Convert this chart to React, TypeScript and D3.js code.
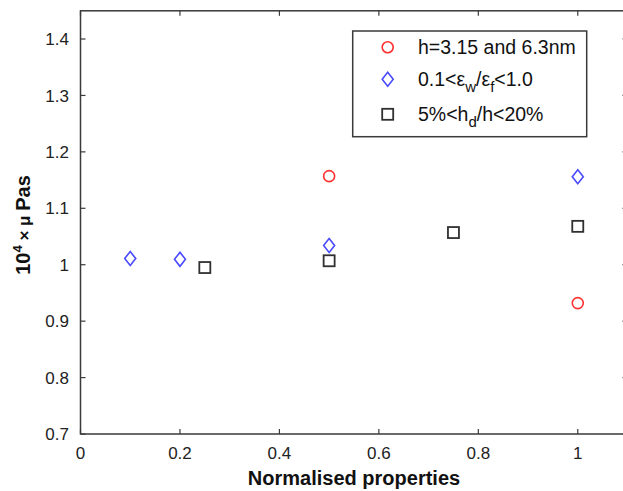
import React from "react";
import * as d3 from "d3";

const xTicks = [0, 0.2, 0.4, 0.6, 0.8, 1];
const yTicks = [0.7, 0.8, 0.9, 1, 1.1, 1.2, 1.3, 1.4];

const circleX = [0.5, 1];
const circleY = [1.157, 0.932];

const diamondX = [0.1, 0.2, 0.5, 1];
const diamondY = [1.011, 1.0095, 1.034, 1.156];

const squareX = [0.25, 0.5, 0.75, 1];
const squareY = [0.995, 1.007, 1.057, 1.068];

const W = 623;
const H = 491;

export default function App() {
  const x = d3.scaleLinear().domain([0, 1.1]).range([80.5, 627.5]);
  const y = d3.scaleLinear().domain([0.7, 1.45]).range([434, 10.8]);
  const axisColor = "#3a3a3a";
  const red = "#ff3030";
  const blue = "#4a4aff";
  const black = "#303030";
  const tl = 5;
  const font = "Liberation Sans, Arial, sans-serif";
  const x0 = x(0), x1 = x(1.1), y0 = y(0.7), y1 = y(1.45);
  const diamond = (cx: number, cy: number) =>
    `M${cx},${cy - 7}L${cx + 5.5},${cy}L${cx},${cy + 7}L${cx - 5.5},${cy}Z`;

  const lx = 387.7;
  const ly = [47.3, 79.3, 114.3];

  return (
    <svg width={W} height={H} style={{ position: "absolute", left: 0, top: 0, background: "#fff" }} fontFamily={font}>
      <rect x={0} y={0} width={W} height={H} fill="#fff" />
      {/* frame */}
      <rect x={x0} y={y1} width={x1 - x0} height={y0 - y1} fill="none" stroke={axisColor} strokeWidth={1.5} />
      {/* x ticks */}
      {xTicks.map((t) => (
        <g key={"x" + t}>
          <line x1={x(t)} x2={x(t)} y1={y0} y2={y0 - tl} stroke={axisColor} strokeWidth={1.2} />
          <line x1={x(t)} x2={x(t)} y1={y1} y2={y1 + tl} stroke={axisColor} strokeWidth={1.2} />
          <text x={x(t)} y={y0 + 25} textAnchor="middle" fontSize={17} fill="#222">
            {d3.format("~g")(t)}
          </text>
        </g>
      ))}
      {/* y ticks */}
      {yTicks.map((t) => (
        <g key={"y" + t}>
          <line x1={x0} x2={x0 + tl} y1={y(t)} y2={y(t)} stroke={axisColor} strokeWidth={1.2} />
          <line x1={x1} x2={x1 - tl} y1={y(t)} y2={y(t)} stroke={axisColor} strokeWidth={1.2} />
          <text x={69} y={y(t)} dy="0.36em" textAnchor="end" fontSize={17} fill="#222">
            {d3.format("~g")(t)}
          </text>
        </g>
      ))}
      {/* axis labels */}
      <text x={(x0 + x1) / 2} y={485} textAnchor="middle" fontSize={20} fontWeight="bold" fill="#111">
        Normalised properties
      </text>
      <text transform={`translate(30,225) rotate(-90)`} textAnchor="middle" fontSize={20} fontWeight="bold" fill="#111">
        10<tspan fontSize={13} dy={-8}>4</tspan>
        <tspan dy={8} fontSize={17}> × μ </tspan>
        <tspan>Pas</tspan>
      </text>
      {/* data */}
      {circleX.map((v, i) => (
        <circle key={"c" + i} cx={x(v)} cy={y(circleY[i])} r={5.5} fill="none" stroke={red} strokeWidth={1.6} />
      ))}
      {diamondX.map((v, i) => (
        <path key={"d" + i} d={diamond(x(v), y(diamondY[i]))} fill="none" stroke={blue} strokeWidth={1.6} />
      ))}
      {squareX.map((v, i) => (
        <rect key={"s" + i} x={x(v) - 5.5} y={y(squareY[i]) - 5.5} width={11} height={11} fill="none" stroke={black} strokeWidth={1.8} />
      ))}
      {/* legend */}
      <rect x={352.7} y={31} width={234} height={105.7} fill="#fff" stroke={axisColor} strokeWidth={1.5} />
      <circle cx={lx} cy={ly[0]} r={5.5} fill="none" stroke={red} strokeWidth={1.6} />
      <path d={diamond(lx, ly[1])} fill="none" stroke={blue} strokeWidth={1.6} />
      <rect x={lx - 5.5} y={ly[2] - 5.5} width={11} height={11} fill="none" stroke={black} strokeWidth={1.8} />
      <text x={418} y={ly[0] + 7} fontSize={19.5} fill="#111">h=3.15 and 6.3nm</text>
      <text x={418} y={ly[1] + 7} fontSize={19.5} fill="#111">
        0.1&lt;ε<tspan fontSize={15} dy={6}>w</tspan>
        <tspan dy={-6}>/ε</tspan>
        <tspan fontSize={15} dy={6}>f</tspan>
        <tspan dy={-6}>&lt;1.0</tspan>
      </text>
      <text x={418} y={ly[2] + 7} fontSize={19.5} fill="#111">
        5%&lt;h<tspan fontSize={15} dy={6}>d</tspan>
        <tspan dy={-6}>/h&lt;20%</tspan>
      </text>
    </svg>
  );
}
